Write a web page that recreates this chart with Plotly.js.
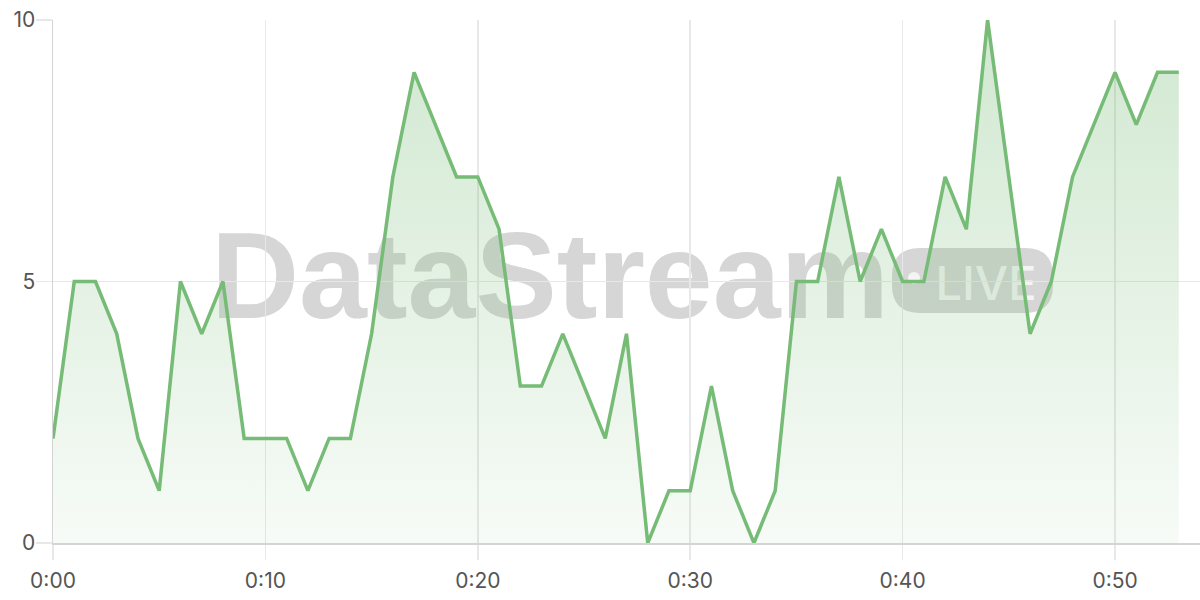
<!DOCTYPE html>
<html>
<head>
<meta charset="utf-8">
<script src="https://cdn.plot.ly/plotly-3.0.1.min.js"></script>
<style>html,body{margin:0;padding:0;background:#fff;}#chart{width:1200px;height:600px;}</style>
</head>
<body>
<div id="chart"></div>
<script>
// minutes since start
const minutes = [0,1,2,3,4,5,6,7,8,9,10,11,12,13,14,15,16,17,18,19,20,21,22,23,24,25,26,27,28,29,30,31,32,33,34,35,36,37,38,39,40,41,42,43,44,45,46,47,48,49,50,51,52,53];
const values  = [2,5,5,4,2,1,5,4,5,2,2,2,1,2,2,4,7,9,8,7,7,6,3,3,4,3,2,4,0,1,1,3,1,0,1,5,5,7,5,6,5,5,7,6,10,7,4,5,7,8,9,8,9,9];
const xTickVals = [0,10,20,30,40,50];
const xTickText = ["0:00","0:10","0:20","0:30","0:40","0:50"];
const yTickVals = [0,5,10];
const watermarkText = "DataStream";
const badgeText = "LIVE";

// plot area in px (for paper-coord conversions of decoration)
const L = 53, R = 1200, T = 20, B = 543;
const px = v => (v - L) / (R - L);
const py = v => (B - v) / (B - T);

function roundRect(x0, y0, x1, y1, r) {
  const X0 = px(x0), X1 = px(x1), Y0 = py(y0), Y1 = py(y1);
  const rx = r / (R - L), ry = r / (B - T);
  return `M${X0+rx},${Y0} L${X1-rx},${Y0} Q${X1},${Y0} ${X1},${Y0-ry} L${X1},${Y1+ry} Q${X1},${Y1} ${X1-rx},${Y1} L${X0+rx},${Y1} Q${X0},${Y1} ${X0},${Y1+ry} L${X0},${Y0-ry} Q${X0},${Y0} ${X0+rx},${Y0} Z`;
}

const trace = {
  x: minutes,
  y: values,
  type: 'scatter',
  mode: 'lines',
  line: {color: '#76bb76', width: 3.5},
  fill: 'tozeroy',
  fillgradient: {
    type: 'vertical',
    start: 0,
    stop: 10,
    colorscale: [[0, 'rgba(118,187,118,0.06)'], [1, 'rgba(118,187,118,0.34)']]
  },
  hoverinfo: 'skip'
};

const layout = {
  width: 1200,
  height: 600,
  margin: {l: L, r: 1200 - R, t: T, b: 600 - B},
  paper_bgcolor: '#ffffff',
  plot_bgcolor: 'rgba(0,0,0,0)',
  showlegend: false,
  font: {family: 'Inter, "Open Sans", sans-serif', color: '#555555', size: 21},
  xaxis: {
    range: [0, 54],
    tickvals: xTickVals,
    ticktext: xTickText,
    showgrid: true,
    gridcolor: '#e8e8e8',
    gridwidth: 1.5,
    zeroline: false,
    showline: true,
    linecolor: '#d4d4d4',
    linewidth: 1.5,
    ticks: 'outside',
    ticklen: 15,
    tickcolor: '#e8e8e8',
    tickwidth: 1.5,
    ticklabelstandoff: 3,
    tickfont: {size: 21, color: '#555555'},
    fixedrange: true
  },
  yaxis: {
    range: [0, 10],
    tickvals: yTickVals,
    showgrid: true,
    gridcolor: '#e8e8e8',
    gridwidth: 1.5,
    zeroline: false,
    showline: true,
    linecolor: '#d4d4d4',
    linewidth: 1.5,
    ticks: 'outside',
    ticklen: 16,
    tickcolor: '#e8e8e8',
    tickwidth: 1.5,
    ticklabelstandoff: -4,
    tickfont: {size: 21, color: '#555555'},
    fixedrange: true
  },
  shapes: [
    {
      type: 'rect', xref: 'paper', yref: 'paper', layer: 'below',
      x0: px(200), x1: px(900), y0: py(204), y1: py(324),
      line: {width: 0}, fillcolor: 'rgba(0,0,0,0)',
      label: {text: watermarkText, textposition: 'middle center',
              font: {family: '"Liberation Sans", Arial, sans-serif', size: 122, color: '#d6d6d6', weight: 'bold'}}
    },
    {
      type: 'path', xref: 'paper', yref: 'paper', layer: 'below',
      path: roundRect(892, 248, 1053, 313, 28),
      line: {width: 0}, fillcolor: '#d6d6d6'
    },
    {
      type: 'circle', xref: 'paper', yref: 'paper', layer: 'below',
      x0: px(908), x1: px(920), y0: py(272), y1: py(284),
      line: {width: 0}, fillcolor: '#f4f4f4'
    },
    {
      type: 'rect', xref: 'paper', yref: 'paper', layer: 'below',
      x0: px(930), x1: px(1042), y0: py(250), y1: py(312),
      line: {width: 0}, fillcolor: 'rgba(0,0,0,0)',
      label: {text: badgeText, textposition: 'middle center',
              font: {family: 'Inter, sans-serif', size: 47, color: '#f4f4f4', weight: 500}}
    }
  ]
};

Plotly.newPlot('chart', [trace], layout, {displayModeBar: false, staticPlot: true});
</script>
</body>
</html>
